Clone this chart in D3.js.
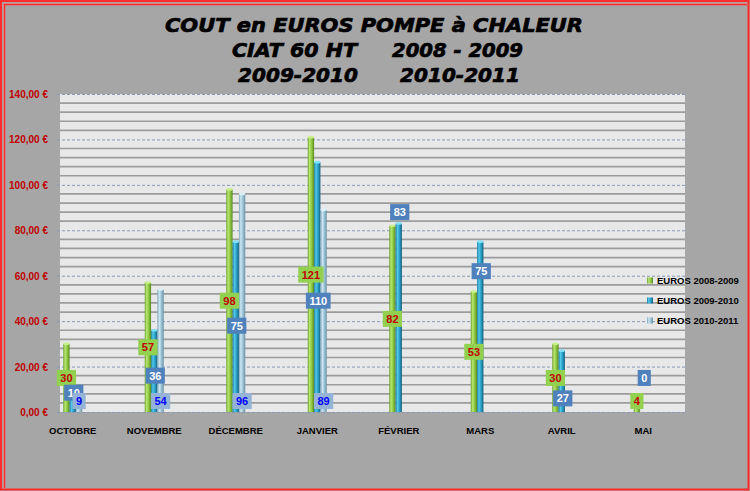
<!DOCTYPE html>
<html><head><meta charset="utf-8">
<script src="https://cdn.jsdelivr.net/npm/d3@7"></script>
<style>body{margin:0;background:#a6a6a6;} svg{display:block}</style>
</head><body><svg id="c" width="750" height="491"></svg>
<script>
// ---- data ----
const months = ["OCTOBRE","NOVEMBRE","DÉCEMBRE","JANVIER","FÉVRIER","MARS","AVRIL","MAI"];
const euros0809 = [30,57,98,121,82,53,30,4];
const euros0910 = [10,36,75,110,83,75,27,0];
const euros1011 = [9,54,96,89,null,null,null,null];
const seriesNames = ["EUROS 2008-2009","EUROS 2009-2010","EUROS 2010-2011"];
const yTicks = [0,20,40,60,80,100,120,140];
// value at which the (manually placed) 2009-2010 data labels sit
const label0910At = [8.5,16,38,49,88,62,6,15];
const titleLine1 = "COUT en EUROS POMPE à CHALEUR";
const titleLine2 = ["CIAT 60 HT","2008 - 2009"];
const titleLine3 = ["2009-2010","2010-2011"];

// ---- layout ----
const W=750,H=491;
const plot = {left:60,right:685,top:94,bottom:412};
const svg = d3.select("#c");
const defs = svg.append("defs");

svg.append("rect").attr("width",W).attr("height",H).attr("fill","#a6a6a6");
// red frame
svg.append("rect").attr("x",1).attr("y",1).attr("width",747.5).attr("height",488.5)
  .attr("fill","none").attr("stroke","#ff2a2a").attr("stroke-width",2);
svg.append("path").attr("d","M4,488 V4 H747").attr("fill","none").attr("stroke","#ff9a9a").attr("stroke-width",1);
svg.append("path").attr("d","M4.5,488 V4.5 H747").attr("fill","none").attr("stroke","#ff2a2a").attr("stroke-width",1.5);

// title
const tfont = "'DejaVu Sans', sans-serif";
function ttext(str,x1,x2,base){
  svg.append("text").attr("x",x1).attr("y",base).text(str)
    .attr("font-family",tfont).attr("font-weight","bold").attr("font-style","italic")
    .attr("font-size",19.5).attr("fill","#000").attr("stroke","#000").attr("stroke-width",0.7)
    .attr("textLength",x2-x1).attr("lengthAdjust","spacingAndGlyphs");
}
ttext(titleLine1,165,583,32);
ttext(titleLine2[0],232,357,57);
ttext(titleLine2[1],392,523,57);
ttext(titleLine3[0],238,358,82);
ttext(titleLine3[1],400,520,82);

// scales
const y = d3.scaleLinear().domain([0,140]).range([plot.bottom,plot.top]);
const x = d3.scaleBand().domain(months).range([32,684]);
const inner = d3.scaleBand().domain([0,1,2]).range([-9.5,9.5]);

// plot background
svg.append("rect").attr("x",plot.left).attr("y",plot.top)
  .attr("width",plot.right-plot.left).attr("height",plot.bottom-plot.top).attr("fill","#e8e8e8");

// minor grid
const minor = d3.range(0,141,4).filter(v=>v%20!==0);
svg.append("g").selectAll("line").data(minor).join("line")
  .attr("x1",plot.left).attr("x2",plot.right)
  .attr("y1",d=>y(d)).attr("y2",d=>y(d))
  .attr("stroke","#9c9c9c").attr("stroke-width",1.7);

// major dashed grid + axis
const yAxis = d3.axisLeft(y).tickValues(yTicks).tickSize(plot.right-57)
  .tickFormat(v=>v.toFixed(2).replace(".",",")+" €");
const ga = svg.append("g").attr("transform",`translate(${plot.right},0)`).call(yAxis);
ga.select(".domain").remove();
ga.selectAll(".tick line").attr("stroke","#8a9ab4").attr("stroke-dasharray","3,2").attr("stroke-width",1);
ga.selectAll(".tick text").attr("x",-(plot.right-48)).attr("dy","0.35em")
  .attr("fill","#c00000").attr("font-weight","bold").attr("font-size",10)
  .attr("font-family","'Liberation Sans', Arial, sans-serif");

// x labels
const xAxis = d3.axisBottom(x).tickSize(0).tickPadding(0);
const gx = svg.append("g").attr("transform",`translate(0,${plot.bottom})`).call(xAxis);
gx.select(".domain").remove();
gx.selectAll(".tick text").attr("y",22).attr("dy",0)
  .attr("fill","#000").attr("font-weight","bold").attr("font-size",9.5)
  .attr("font-family","'Liberation Sans', Arial, sans-serif");

// gradients
const grads = [
  {id:"g0",stops:["#6aa22a","#b9e675","#8fcb40","#5a8a22"],cap:"#c8f08a"},
  {id:"g1",stops:["#1a7c9e","#55c8ea","#2aa2c8","#14617c"],cap:"#7fe0f8"},
  {id:"g2",stops:["#7aa6ba","#cde6f1","#9fc6d8","#6a91a4"],cap:"#ddf0f8"}
];
grads.forEach(g=>{
  const lg = defs.append("linearGradient").attr("id",g.id).attr("x1",0).attr("x2",1).attr("y1",0).attr("y2",0);
  [0,0.3,0.6,1].forEach((o,i)=>lg.append("stop").attr("offset",o).attr("stop-color",g.stops[i]));
});

const series = [euros0809,euros0910,euros1011];
series.forEach((vals,si)=>{
  const data = months.map((m,i)=>({m,v:vals[i]})).filter(d=>d.v!==null);
  const g = svg.append("g");
  g.selectAll("rect").data(data).join("rect")
    .attr("x",d=>x(d.m)+x.bandwidth()/2+inner(si))
    .attr("width",inner.bandwidth())
    .attr("y",d=>y(d.v)).attr("height",d=>y(0)-y(d.v))
    .attr("fill",`url(#${grads[si].id})`);
  g.selectAll("ellipse").data(data.filter(d=>d.v>0)).join("ellipse")
    .attr("cx",d=>x(d.m)+x.bandwidth()/2+inner(si)+inner.bandwidth()/2)
    .attr("cy",d=>y(d.v)).attr("rx",inner.bandwidth()/2).attr("ry",1.3)
    .attr("fill",grads[si].cap);
});

// data labels
const lstyle = [
  {box:"#92d050",txt:"#c00000"},
  {box:"#4f81bd",txt:"#ffffff"},
  {box:"#95b3d7",txt:"#0000ff"}
];
function labelY(si,i,v){
  if(si===0) return Math.min(y(v/2), plot.bottom-11);
  if(si===1) return y(label0910At[i]);
  return plot.bottom-11;
}
function labelX(si,m){
  const c = x(m)+x.bandwidth()/2+inner(si)+inner.bandwidth()/2;
  return si===1 ? c+1 : c;
}
series.forEach((vals,si)=>{
  months.forEach((m,i)=>{
    const v = vals[i];
    if(v===null) return;
    const cx = labelX(si,m), cy = labelY(si,i,v);
    const g = svg.append("g");
    const r = g.append("rect");
    const t = g.append("text").attr("x",cx).attr("y",cy).attr("dy","0.36em")
      .attr("text-anchor","middle").attr("font-family","'Liberation Sans', Arial, sans-serif")
      .attr("font-weight","bold").attr("font-size",11).attr("fill",lstyle[si].txt).text(v);
    const w = t.node().getComputedTextLength()+7;
    r.attr("x",cx-w/2).attr("y",cy-8).attr("width",w).attr("height",16).attr("fill",lstyle[si].box);
  });
});

// legend
const lg = svg.append("g");
const legY = [281,301,321];
seriesNames.forEach((n,i)=>{
  lg.append("rect").attr("x",647).attr("y",legY[i]-3.5).attr("width",6).attr("height",6)
    .attr("fill",`url(#${grads[i].id})`);
  lg.append("text").attr("x",657).attr("y",legY[i]).attr("dy","0.35em").text(n)
    .attr("font-family","'Liberation Sans', Arial, sans-serif").attr("font-weight","bold")
    .attr("font-size",9.5).attr("fill","#000");
});
</script></body></html>
